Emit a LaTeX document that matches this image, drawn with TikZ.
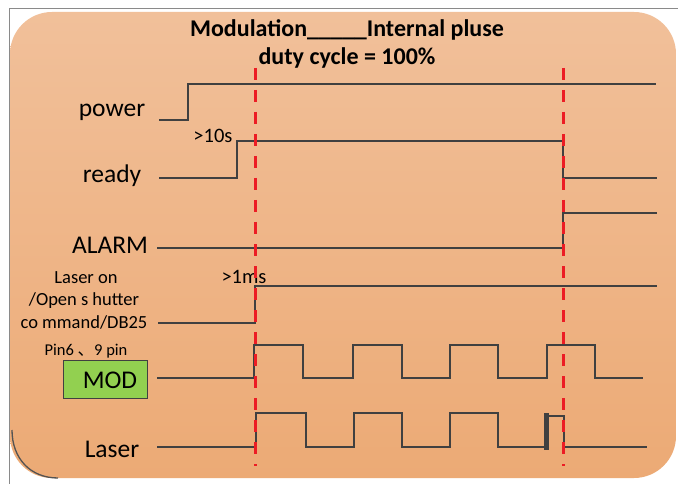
\documentclass[tikz,border=0pt]{standalone}
\usepackage{fontspec}
\setmainfont{Carlito}
\newfontfamily\cjk{Noto Sans CJK SC}
\definecolor{sig}{HTML}{404040}
\definecolor{dash}{HTML}{EC1C24}
\definecolor{bgtop}{HTML}{F1C09A}
\definecolor{bgbot}{HTML}{ECAA75}
\definecolor{modgreen}{HTML}{92D050}
\definecolor{frame}{HTML}{8A8A8A}
\tikzset{
  signal/.style={draw=sig, line width=2.8pt, line join=miter},
  marker/.style={draw=dash, line width=3pt, dash pattern=on 12pt off 10pt},
  biglabel/.style={anchor=base, inner sep=0pt, font=\fontsize{25.5}{30}\selectfont},
  smalllabel/.style={anchor=base, inner sep=0pt, font=\fontsize{18.5}{22}\selectfont},
  timelabel/.style={anchor=base, inner sep=0pt, font=\fontsize{20.5}{24}\selectfont},
  titlelabel/.style={anchor=base, inner sep=0pt, font=\fontsize{24}{28}\selectfont\bfseries},
}
\begin{document}
\begin{tikzpicture}[x=1pt,y=-1pt]
\useasboundingbox (0,0) rectangle (678,484);
\fill[white] (0,0) rectangle (678,484);
% frame
\draw[frame, line width=1pt] (9,484) -- (9,9) -- (678,9);
% orange panel
\shade[top color=bgtop, bottom color=bgbot, rounded corners=42pt] (10,12) rectangle (676,478);
\draw[sig!90, line width=1.3pt] (12,430) .. controls (12,458) and (30,478) .. (58,478);
% title
\node[titlelabel] (t1) at (347,37) {Modulation\_\_\_\_\_Internal pluse};
\node[titlelabel] (t2) at (347,65) {duty cycle = 100\%};
% labels
\node[biglabel] (lpower) at (112,117) {power};
\node[biglabel] (lready) at (112,183) {ready};
\node[biglabel] (lalarm) at (110,253) {ALARM};
\node[smalllabel] (lon1) at (86,283) {Laser on};
\node[smalllabel] (lon2) at (84,305) {/Open s hutter};
\node[smalllabel] (lon3) at (84,328) {co mmand/DB25};
\node[anchor=base, inner sep=0pt, font=\fontsize{16.5}{20}\selectfont] (lon4) at (86,355) {Pin6 {\cjk 、}9 pin};
\draw[draw=sig, line width=1pt, fill=modgreen] (63,360) rectangle (147,398);
\node[biglabel] (lmod) at (110,388) {MOD};
\node[biglabel] (llaser) at (112,457) {Laser};
\node[timelabel] (t10) at (213,143) {>10s};
\node[timelabel] (t1ms) at (244,283) {>1ms};
% signals
\draw[signal] (159,120) -- (188,120) -- (188,84) -- (656,84);
\draw[signal] (159,178) -- (237,178) -- (237,141) -- (563,141) -- (563,178) -- (657,178);
\draw[signal] (157,248) -- (563,248) -- (563,213) -- (657,213);
\draw[signal] (158,323) -- (255,323) -- (255,286) -- (657,286);
\draw[signal] (157,378) -- (254,378) -- (254,345) -- (303,345) -- (303,378) -- (353,378) -- (353,345) -- (402,345) -- (402,378) -- (450,378) -- (450,345) -- (498,345) -- (498,378) -- (547,378) -- (547,345) -- (595,345) -- (595,378) -- (643,378);
\draw[signal] (157,447) -- (256,447) -- (256,413) -- (306,413) -- (306,447) -- (354,447) -- (354,413) -- (402,413) -- (402,447) -- (450,447) -- (450,413) -- (498,413) -- (498,447) -- (546,447);
\fill[sig] (544,413) rectangle (549,450);
\draw[signal, line width=2.4pt] (546,416) -- (564,416) -- (564,447) -- (647,447);
% markers
\draw[marker] (255,68) -- (255,466);
\draw[marker] (563,68) -- (563,466);
\end{tikzpicture}
\end{document}
